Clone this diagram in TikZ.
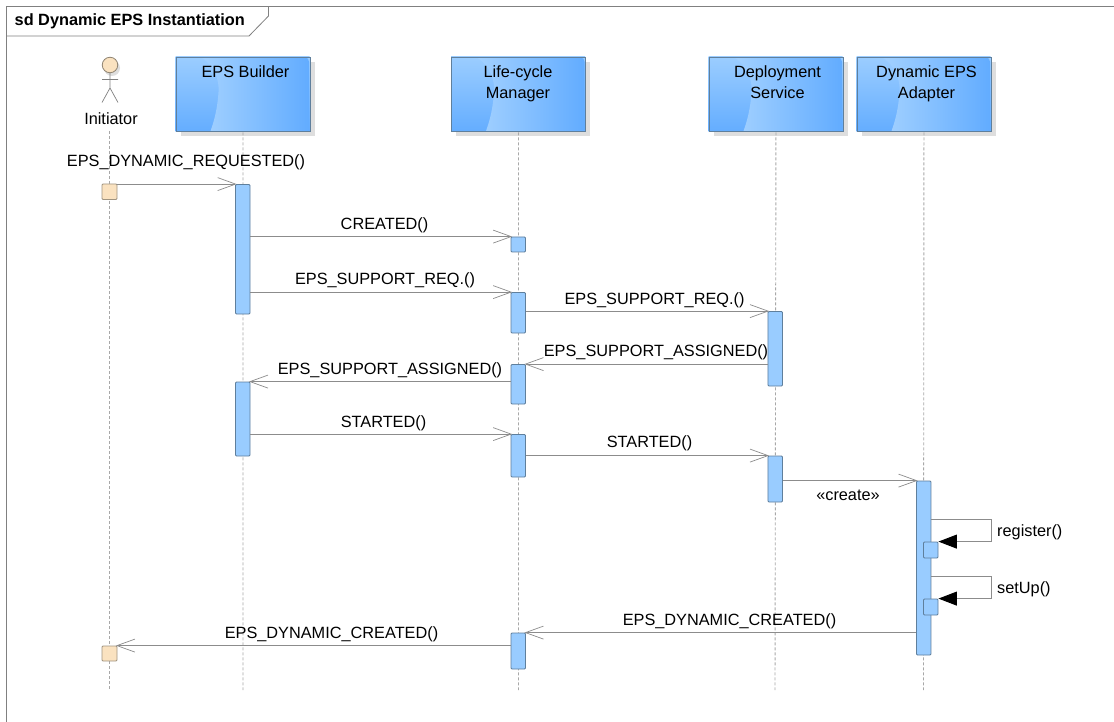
\documentclass[tikz,border=0pt]{standalone}
\usepackage{fontspec}
\setmainfont{Liberation Sans}
\usetikzlibrary{arrows.meta,shadings}
\definecolor{lifeline}{HTML}{A8A8A8}
\definecolor{msgline}{HTML}{8C8C8C}
\definecolor{boxedge}{HTML}{5F7F9C}
\definecolor{actblue}{HTML}{99CCFF}
\definecolor{basetop}{HTML}{9BCDFF}
\definecolor{basemid}{HTML}{8FC6FF}
\definecolor{basebot}{HTML}{64ADFF}
\definecolor{overleft}{HTML}{A3D1FF}
\definecolor{overmid}{HTML}{97CBFF}
\definecolor{overright}{HTML}{62ACFF}
\definecolor{actskin}{HTML}{FAE2C0}
\definecolor{skinedge}{HTML}{A09480}
\definecolor{shadowc}{HTML}{DEDEDE}
\definecolor{frameline}{HTML}{808080}
\tikzset{
  x=1pt,y=-1pt,
  lbl/.style={font=\fontsize{16.3}{18}\selectfont,text=black,inner sep=0pt,anchor=base},
  lifeln/.style={draw=lifeline,dash pattern=on 3pt off 2pt,line width=0.9pt},
  msg/.style={draw=msgline,line width=0.9pt,shorten >=-1.5pt,-{Straight Barb[length=18pt,width=13pt,line width=0.7pt]}},
  selfmsg/.style={draw=msgline,line width=0.9pt,-{Triangle[length=18.5pt,width=14pt,fill=black,color=black]}},
  actbar/.style={draw=boxedge,fill=actblue,line width=0.8pt,rounded corners=1pt,inner sep=0pt,minimum width=14.5pt},
  actini/.style={draw=skinedge,fill=actskin,line width=0.8pt,rounded corners=1pt,inner sep=0pt,minimum width=15pt},
  boxlabel/.style={font=\fontsize{16.3}{21}\selectfont,text=black,align=center,inner sep=0pt,anchor=north},
}
% \actbox{style}{name}{x}{y1}{y2}
\newcommand{\actbox}[5]{%
  \pgfmathsetmacro{\ymidv}{(#4+#5)/2}%
  \pgfmathsetmacro{\yhv}{#5-#4}%
  \node[#1,minimum height=\yhv pt] (#2) at (#3,\ymidv) {};}
% \partbox{name}{x1}{label}{label centre x}
\newcommand{\partbox}[4]{%
  \pgfmathsetmacro{\xb}{#2+134}%
  \fill[shadowc] (#2+5,62) rectangle (\xb+5,136.5);
  \shade[top color=basetop,middle color=basemid,bottom color=basebot] (#2,57) rectangle (\xb,131.5);
  \shade[left color=overleft,middle color=overmid,right color=overright]
    (#2+26,57.5) .. controls (#2+39,66) and (#2+44,80) .. (#2+43,92)
    .. controls (#2+42,108) and (#2+39,120) .. (#2+35,131)
    -- (\xb-0.5,131) -- (\xb-0.5,62) .. controls (\xb-0.5,59) and (\xb-2,57.5) .. (\xb-5,57.5) -- cycle;
  \node[draw=boxedge,line width=0.9pt,minimum width=134pt,minimum height=74.5pt,inner sep=0pt,anchor=north west] (#1) at (#2,57) {};
  \node[boxlabel] (#1label) at (#4,65) {#3};}
\begin{document}
\begin{tikzpicture}
\useasboundingbox (0,0) rectangle (1114,722);
\fill[white] (0,0) rectangle (1114,722);
% frame
\coordinate (ftr) at (1114,6.5);
\coordinate (fbl) at (6.5,722);
\draw[frameline,line width=0.8pt] (fbl) -- (6.5,6.5) -- (ftr);
\coordinate (tabtop) at (268.5,6.5);
\coordinate (tabbot) at (6.5,36);
\draw[frameline,line width=0.8pt] (tabtop) -- (268.5,16) -- (249,36) -- (tabbot);
\node[inner sep=0pt,anchor=base west,font=\fontsize{16.3}{18}\selectfont\bfseries] (frametitle) at (14.5,26) {sd Dynamic EPS Instantiation};
% participants
\partbox{builder}{175.5}{EPS Builder}{245.5}
\partbox{manager}{451}{Life-cycle\\Manager}{518}
\partbox{deploy}{708.5}{Deployment\\Service}{777.5}
\partbox{adapter}{856.5}{Dynamic EPS\\Adapter}{926.5}
% actor
\fill[shadowc] (112,68) circle (8);
\node[draw=skinedge!90!black,fill=actskin,circle,minimum size=15.5pt,inner sep=0pt,line width=0.8pt] (head) at (110,65) {};
\coordinate (hip) at (110,88);
\coordinate (armL) at (102,79.5);
\coordinate (armR) at (118,79.5);
\coordinate (legL) at (102,102.5);
\coordinate (legR) at (118,102.5);
\draw[frameline,line width=0.7pt] (head.south) -- (hip) (armL) -- (armR) (legL) -- (hip) -- (legR);
\node[lbl] (initiator) at (111,124.5) {Initiator};
% lifeline ends
\coordinate (endA) at (109.5,690);
\coordinate (endB) at (243,690);
\coordinate (endC) at (518.5,690);
\coordinate (endD) at (775,690);
\coordinate (endE) at (923.5,690);
\coordinate (startA) at (109.5,131);
\draw[lifeln] (startA) -- (endA);
\draw[lifeln] (builder.south) -- (endB);
\draw[lifeln] (manager.south) -- (endC);
\draw[lifeln] (deploy.south) -- (endD);
\draw[lifeln] (adapter.south) -- (endE);
% activations
\actbox{actini}{ia}{109.5}{184}{199.5}
\actbox{actini}{ib}{109.5}{646}{661}
\actbox{actbar}{b1}{242.8}{184.5}{314}
\actbox{actbar}{b2}{242.8}{382}{456}
\actbox{actbar}{m1}{518.3}{237}{252}
\actbox{actbar}{m2}{518.3}{292.5}{333}
\actbox{actbar}{m3}{518.3}{364.5}{404}
\actbox{actbar}{m4}{518.3}{434.5}{477}
\actbox{actbar}{m5}{518.3}{633}{669}
\actbox{actbar}{d1}{775.2}{311.5}{386}
\actbox{actbar}{d2}{775.2}{456}{502}
\actbox{actbar}{a1}{923.7}{481}{655}
\actbox{actbar}{s1}{930.8}{542}{558}
\actbox{actbar}{s2}{930.8}{599}{615}
% messages
\draw[msg] (ia.east |- b1.north) -- (b1.north west);
\node[lbl] at (186,167) {EPS\_DYNAMIC\_REQUESTED()};
\draw[msg] (b1.east |- m1.north) -- (m1.north west);
\node[lbl] at (384.5,229.5) {CREATED()};
\draw[msg] (b1.east |- m2.north) -- (m2.north west);
\node[lbl] at (385,284.5) {EPS\_SUPPORT\_REQ.()};
\draw[msg] (m2.east |- d1.north) -- (d1.north west);
\node[lbl] at (654.5,304.5) {EPS\_SUPPORT\_REQ.()};
\draw[msg] (d1.west |- m3.north) -- (m3.north east);
\node[lbl] at (656,356.5) {EPS\_SUPPORT\_ASSIGNED()};
\draw[msg] (m3.west |- b2.north) -- (b2.north east);
\node[lbl] at (390,374.5) {EPS\_SUPPORT\_ASSIGNED()};
\draw[msg] (b2.east |- m4.north) -- (m4.north west);
\node[lbl] at (383.5,427) {STARTED()};
\draw[msg] (m4.east |- d2.north) -- (d2.north west);
\node[lbl] at (649.5,447.5) {STARTED()};
\draw[msg] (d2.east |- a1.north) -- (a1.north west);
\node[lbl] at (848,500) {«create»};
\coordinate (r1) at (991,519);
\draw[selfmsg] (a1.east |- r1) -- (r1) -- (r1 |- s1.north) -- (s1.north east);
\node[lbl,anchor=base west] at (997,536) {register()};
\coordinate (u1) at (991,576);
\draw[selfmsg] (a1.east |- u1) -- (u1) -- (u1 |- s2.north) -- (s2.north east);
\node[lbl,anchor=base west] at (997,593) {setUp()};
\draw[msg] (a1.west |- m5.north) -- (m5.north east);
\node[lbl] at (729.5,625.5) {EPS\_DYNAMIC\_CREATED()};
\draw[msg] (m5.west |- ib.north) -- (ib.north east);
\node[lbl] at (331.5,638.5) {EPS\_DYNAMIC\_CREATED()};
\end{tikzpicture}
\end{document}
